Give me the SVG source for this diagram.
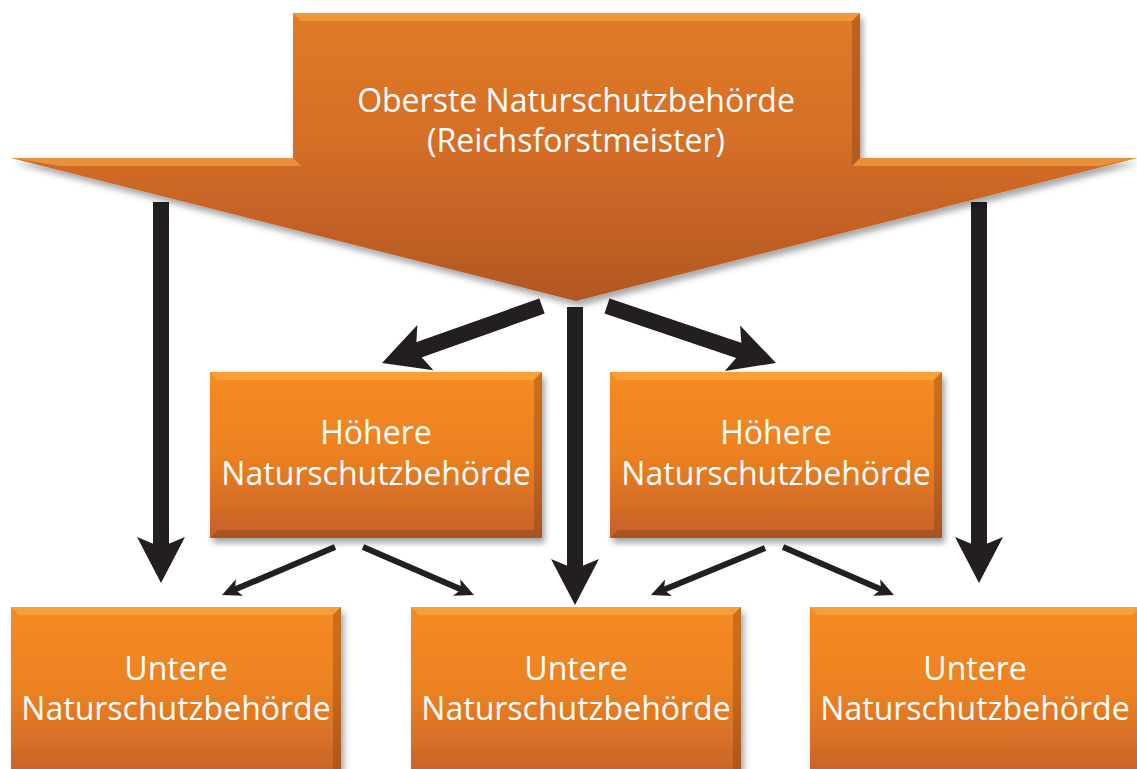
<svg xmlns="http://www.w3.org/2000/svg" width="1137" height="769" viewBox="0 0 1137 769">
<style>
  .lbl{font-family:"Open Sans","Noto Sans","Liberation Sans",sans-serif;font-size:32px;fill:#ffffff;text-anchor:middle}
  .box{fill:url(#boxGrad);filter:url(#shadow)}
  .bevTop{fill:#fbb04a;opacity:0.55}
  .bevRight{fill:#7a3a12;opacity:0.35}
  .big{stroke:#231f20;stroke-width:16;fill:none;marker-end:url(#headBig)}
  .small{stroke:#231f20;stroke-width:6;fill:none;marker-end:url(#headSmall)}
</style>
<defs>
  <linearGradient id="boxGrad" x1="0" y1="0" x2="0" y2="1">
    <stop offset="0" stop-color="#f68b20"/>
    <stop offset="0.5" stop-color="#ec8122"/>
    <stop offset="1" stop-color="#c6612a"/>
  </linearGradient>
  <linearGradient id="topGrad" x1="0" y1="0" x2="0" y2="1">
    <stop offset="0" stop-color="#e27b28"/>
    <stop offset="0.45" stop-color="#d56e27"/>
    <stop offset="1" stop-color="#b25723"/>
  </linearGradient>
  <filter id="shadow" x="-10%" y="-10%" width="125%" height="130%">
    <feDropShadow dx="3" dy="5" stdDeviation="3" flood-color="#000" flood-opacity="0.35"/>
  </filter>
  <marker id="headBig" markerUnits="userSpaceOnUse" markerWidth="80" markerHeight="60" viewBox="-20 -30 60 60" refX="0" refY="0" orient="auto">
    <path d="M-16,-24 L30,0 L-16,24 L-6,0 Z" fill="#231f20"/>
  </marker>
  <marker id="headSmall" markerUnits="userSpaceOnUse" markerWidth="30" markerHeight="24" viewBox="-10 -12 24 24" refX="0" refY="0" orient="auto">
    <path d="M-9,-9 L10,0 L-9,9 L-4,0 Z" fill="#231f20"/>
  </marker>
</defs>
<rect width="1137" height="769" fill="#ffffff"/>

<g id="connectors">
  <line class="big" x1="161" y1="202" x2="161" y2="553"/>
  <line class="big" x1="979" y1="202" x2="979" y2="553"/>
  <line class="big" x1="575" y1="307" x2="575" y2="575"/>
  <line class="big" x1="542" y1="306" x2="410.3" y2="352.9"/>
  <line class="big" x1="607" y1="306" x2="747.6" y2="353.4"/>
  <line class="small" x1="335" y1="547" x2="231.2" y2="591.1"/>
  <line class="small" x1="363" y1="547" x2="464.8" y2="591"/>
  <line class="small" x1="765" y1="548" x2="660.2" y2="591.2"/>
  <line class="small" x1="783" y1="547" x2="884.8" y2="591"/>
</g>

<g id="oberste">
  <polygon points="293,13 860,13 860,158 1137,158 576,301 11,158 293,158" fill="url(#topGrad)" filter="url(#shadow)"/>
  <polygon points="293,13 860,13 852,21 301,21" class="bevTop"/>
  <polygon points="860,13 860,158 852,166 852,21" class="bevRight"/>
  <polygon points="860,158 1137,158 1100,166 852,166" class="bevTop"/>
  <polygon points="11,158 293,158 301,166 60,166" class="bevTop"/>
  <text class="lbl" x="576" y="112">Oberste Naturschutzbehörde</text>
  <text class="lbl" x="576" y="152">(Reichsforstmeister)</text>
</g>

<g id="hoehere1">
  <rect class="box" x="210" y="372" width="332" height="166"/>
  <polygon points="210,372 542,372 534,380 218,380" class="bevTop"/>
  <polygon points="542,372 542,538 534,530 534,380" class="bevRight"/>
  <polygon points="210,538 542,538 534,530 218,530" class="bevRight"/>
  <text class="lbl" x="376" y="444">Höhere</text>
  <text class="lbl" x="376" y="485">Naturschutzbehörde</text>
</g>

<g id="hoehere2">
  <rect class="box" x="610" y="372" width="332" height="166"/>
  <polygon points="610,372 942,372 934,380 618,380" class="bevTop"/>
  <polygon points="942,372 942,538 934,530 934,380" class="bevRight"/>
  <polygon points="610,538 942,538 934,530 618,530" class="bevRight"/>
  <text class="lbl" x="776" y="444">Höhere</text>
  <text class="lbl" x="776" y="485">Naturschutzbehörde</text>
</g>

<g id="untere1">
  <rect class="box" x="11" y="607" width="330" height="170"/>
  <polygon points="11,607 341,607 333,615 19,615" class="bevTop"/>
  <polygon points="341,607 341,777 333,777 333,615" class="bevRight"/>
  <text class="lbl" x="176" y="680">Untere</text>
  <text class="lbl" x="176" y="720">Naturschutzbehörde</text>
</g>

<g id="untere2">
  <rect class="box" x="411" y="607" width="330" height="170"/>
  <polygon points="411,607 741,607 733,615 419,615" class="bevTop"/>
  <polygon points="741,607 741,777 733,777 733,615" class="bevRight"/>
  <text class="lbl" x="576" y="680">Untere</text>
  <text class="lbl" x="576" y="720">Naturschutzbehörde</text>
</g>

<g id="untere3">
  <rect class="box" x="810" y="607" width="330" height="170"/>
  <polygon points="810,607 1140,607 1132,615 818,615" class="bevTop"/>
  <text class="lbl" x="975" y="680">Untere</text>
  <text class="lbl" x="975" y="720">Naturschutzbehörde</text>
</g>
</svg>
